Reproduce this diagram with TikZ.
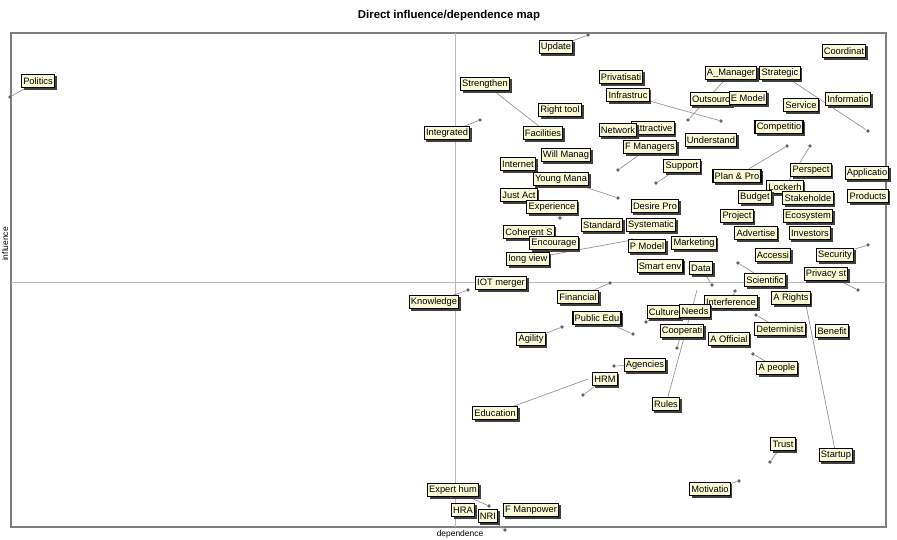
\documentclass[tikz,border=0pt]{standalone}
\usepackage{fontspec}
\setmainfont{Liberation Sans}
\usetikzlibrary{shadows}
\definecolor{mapfill}{RGB}{250,250,214}
\definecolor{mapline}{RGB}{150,150,150}
\definecolor{mapframe}{RGB}{125,125,125}
\definecolor{mapaxis}{RGB}{185,185,185}

\begin{document}
\begin{tikzpicture}[
    x=0.02cm,
    y=-0.02cm,
    varbox/.style={
        draw=black,
        line width=0.6pt,
        fill=mapfill,
        font=\fontsize{5.3}{6}\selectfont,
        inner sep=1pt,
        minimum height=7.8pt,
        drop shadow={shadow xshift=1.2pt, shadow yshift=-1.2pt, fill=black!75, opacity=1}
    },
    varpoint/.style={
        circle,
        fill=black!60,
        inner sep=0pt,
        minimum size=2.2pt
    },
    leader/.style={
        draw=mapline,
        line width=0.4pt
    }
]

\useasboundingbox (0,0) rectangle (897,539);

% frame and axes
\node[font=\bfseries\fontsize{6.5}{7}\selectfont] (title) at (449,16) {Direct influence/dependence map};
\draw[draw=mapframe, line width=0.8pt] (11,33) rectangle (886,527);
\draw[draw=mapaxis, line width=0.5pt] (455,33) -- (455,527);
\draw[draw=mapaxis, line width=0.5pt] (11,282) -- (886,282);
\node[font=\fontsize{4.8}{5}\selectfont] (xlabel) at (460,534) {dependence};
\node[font=\fontsize{4.8}{5}\selectfont, rotate=90] (ylabel) at (5,244) {influence};

% points and leader ends
\node[varpoint] (politicsPt) at (10,97) {};
\node[varpoint] (updatePt) at (588,35) {};
\coordinate (strengthenPt) at (540,127);
\node[varpoint] (managerPt) at (688,120) {};
\node[varpoint] (strategicPt) at (868,131) {};
\node[varpoint] (infrastrucPt) at (721,121) {};
\node[varpoint] (integratedPt) at (480,120) {};
\node[varpoint] (fmanagersPt) at (618,170) {};
\node[varpoint] (willPt) at (548,157) {};
\node[varpoint] (supportPt) at (656,183) {};
\node[varpoint] (youngPt) at (618,198) {};
\node[varpoint] (planPt) at (787,146) {};
\node[varpoint] (lockerPt) at (810,146) {};
\node[varpoint] (experiencePt) at (560,218) {};
\node[varpoint] (securityPt) at (868,245) {};
\node[varpoint] (longviewPt) at (632,240) {};
\node[varpoint] (dataPt) at (712,285) {};
\node[varpoint] (scientificPt) at (738,263) {};
\node[varpoint] (privacyPt) at (858,290) {};
\node[varpoint] (financialPt) at (610,283) {};
\node[varpoint] (knowledgePt) at (468,290) {};
\node[varpoint] (interferencePt) at (735,291) {};
\node[varpoint] (culturePt) at (646,322) {};
\node[varpoint] (publicPt) at (633,334) {};
\node[varpoint] (deterministPt) at (756,315) {};
\node[varpoint] (agilityPt) at (562,327) {};
\node[varpoint] (cooperatiPt) at (677,348) {};
\node[varpoint] (agenciesPt) at (614,366) {};
\node[varpoint] (peoplePt) at (753,354) {};
\node[varpoint] (hrmPt) at (583,395) {};
\coordinate (educationPt) at (588,379);
\coordinate (rulesPt) at (697,290);
\node[varpoint] (trustPt) at (770,462) {};
\coordinate (startupPt) at (806,305);
\node[varpoint] (motivatioPt) at (739,481) {};
\node[varpoint] (expertPt) at (489,506) {};
\node[varpoint] (nriPt) at (505,530) {};

% leader lines (drawn before labels)
\draw[leader] (38,81) -- (politicsPt);
\draw[leader] (556,47) -- (updatePt);
\draw[leader] (485,84) -- (strengthenPt);
\draw[leader] (731,73) -- (managerPt);
\draw[leader] (780,73) -- (strategicPt);
\draw[leader] (628,95) -- (infrastrucPt);
\draw[leader] (447,133) -- (integratedPt);
\draw[leader] (650,147) -- (fmanagersPt);
\draw[leader] (566,155) -- (willPt);
\draw[leader] (682,166) -- (supportPt);
\draw[leader] (561,179) -- (youngPt);
\draw[leader] (737,176) -- (planPt);
\draw[leader] (785,187) -- (lockerPt);
\draw[leader] (552,207) -- (experiencePt);
\draw[leader] (835,255) -- (securityPt);
\draw[leader] (528,259) -- (longviewPt);
\draw[leader] (701,268) -- (dataPt);
\draw[leader] (765,280) -- (scientificPt);
\draw[leader] (826,274) -- (privacyPt);
\draw[leader] (578,297) -- (financialPt);
\draw[leader] (434,302) -- (knowledgePt);
\draw[leader] (731,302) -- (interferencePt);
\draw[leader] (664,312) -- (culturePt);
\draw[leader] (597,318) -- (publicPt);
\draw[leader] (780,329) -- (deterministPt);
\draw[leader] (531,339) -- (agilityPt);
\draw[leader] (682,331) -- (cooperatiPt);
\draw[leader] (645,365) -- (agenciesPt);
\draw[leader] (777,368) -- (peoplePt);
\draw[leader] (605,379) -- (hrmPt);
\draw[leader] (495,413) -- (educationPt);
\draw[leader] (666,404) -- (rulesPt);
\draw[leader] (783,444) -- (trustPt);
\draw[leader] (836,455) -- (startupPt);
\draw[leader] (710,489) -- (motivatioPt);
\draw[leader] (453,490) -- (expertPt);
\draw[leader] (488,516) -- (nriPt);

% variable labels
\node[varbox] (politics) at (38,81) {Politics};
\node[varbox] (update) at (556,47) {Update};
\node[varbox] (coordinat) at (844,51) {Coordinat};
\node[varbox] (strengthen) at (485,84) {Strengthen};
\node[varbox] (privatisati) at (621,77) {Privatisati};
\node[varbox] (manager) at (731,73) {A\_Manager};
\node[varbox] (strategic) at (780,73) {Strategic};
\node[varbox] (infrastruc) at (628,95) {Infrastruc};
\node[varbox] (outsourc) at (711,99) {Outsourc};
\node[varbox] (emodel) at (748,98) {E Model};
\node[varbox] (informatio) at (848,99) {Informatio};
\node[varbox] (service) at (801,105) {Service};
\node[varbox] (righttool) at (560,110) {Right tool};
\node[varbox] (integrated) at (447,133) {Integrated};
\node[varbox] (facilities) at (543,133) {Facilities};
\node[varbox] (attractive) at (653,128) {Attractive};
\node[varbox] (network) at (618,130) {Network};
\node[varbox] (understand) at (711,140) {Understand};
\node[varbox] (competitio) at (779,127) {Competitio};
\node[varbox] (fmanagers) at (650,147) {F Managers};
\node[varbox] (will) at (566,155) {Will Manag};
\node[varbox] (internet) at (518,164) {Internet};
\node[varbox] (support) at (682,166) {Support};
\node[varbox] (young) at (561,179) {Young Mana};
\node[varbox] (plan) at (737,176) {Plan \& Pro};
\node[varbox] (perspect) at (811,170) {Perspect};
\node[varbox] (applicatio) at (867,173) {Applicatio};
\node[varbox] (justact) at (519,195) {Just Act};
\node[varbox] (locker) at (785,187) {Lockerh};
\node[varbox] (budget) at (755,197) {Budget};
\node[varbox] (stakeholde) at (808,198) {Stakeholde};
\node[varbox] (products) at (868,196) {Products};
\node[varbox] (experience) at (552,207) {Experience};
\node[varbox] (desire) at (655,206) {Desire Pro};
\node[varbox] (standard) at (602,225) {Standard};
\node[varbox] (systematic) at (651,225) {Systematic};
\node[varbox] (project) at (737,216) {Project};
\node[varbox] (ecosystem) at (808,216) {Ecosystem};
\node[varbox] (coherent) at (529,232) {Coherent S};
\node[varbox] (encourage) at (554,243) {Encourage};
\node[varbox] (advertise) at (756,233) {Advertise};
\node[varbox] (investors) at (810,233) {Investors};
\node[varbox] (pmodel) at (647,246) {P Model};
\node[varbox] (marketing) at (694,243) {Marketing};
\node[varbox] (accessi) at (773,255) {Accessi};
\node[varbox] (security) at (835,255) {Security};
\node[varbox] (longview) at (528,259) {long view};
\node[varbox] (smartenv) at (660,266) {Smart env};
\node[varbox] (data) at (701,268) {Data};
\node[varbox] (scientific) at (765,280) {Scientific};
\node[varbox] (privacy) at (826,274) {Privacy st};
\node[varbox] (iot) at (501,283) {IOT merger};
\node[varbox] (financial) at (578,297) {Financial};
\node[varbox] (knowledge) at (434,302) {Knowledge};
\node[varbox] (arights) at (791,298) {A Rights};
\node[varbox] (interference) at (731,302) {Interference};
\node[varbox] (culture) at (664,312) {Culture};
\node[varbox] (needs) at (695,311) {Needs};
\node[varbox] (public) at (597,318) {Public Edu};
\node[varbox] (determinist) at (780,329) {Determinist};
\node[varbox] (benefit) at (832,331) {Benefit};
\node[varbox] (agility) at (531,339) {Agility};
\node[varbox] (cooperati) at (682,331) {Cooperati};
\node[varbox] (official) at (729,339) {A Official};
\node[varbox] (agencies) at (645,365) {Agencies};
\node[varbox] (people) at (777,368) {A people};
\node[varbox] (hrm) at (605,379) {HRM};
\node[varbox] (education) at (495,413) {Education};
\node[varbox] (rules) at (666,404) {Rules};
\node[varbox] (trust) at (783,444) {Trust};
\node[varbox] (startup) at (836,455) {Startup};
\node[varbox] (motivatio) at (710,489) {Motivatio};
\node[varbox] (expert) at (453,490) {Expert hum};
\node[varbox] (hra) at (463,510) {HRA};
\node[varbox] (nri) at (488,516) {NRI};
\node[varbox] (fmanpower) at (531,510) {F Manpower};

\end{tikzpicture}
\end{document}
